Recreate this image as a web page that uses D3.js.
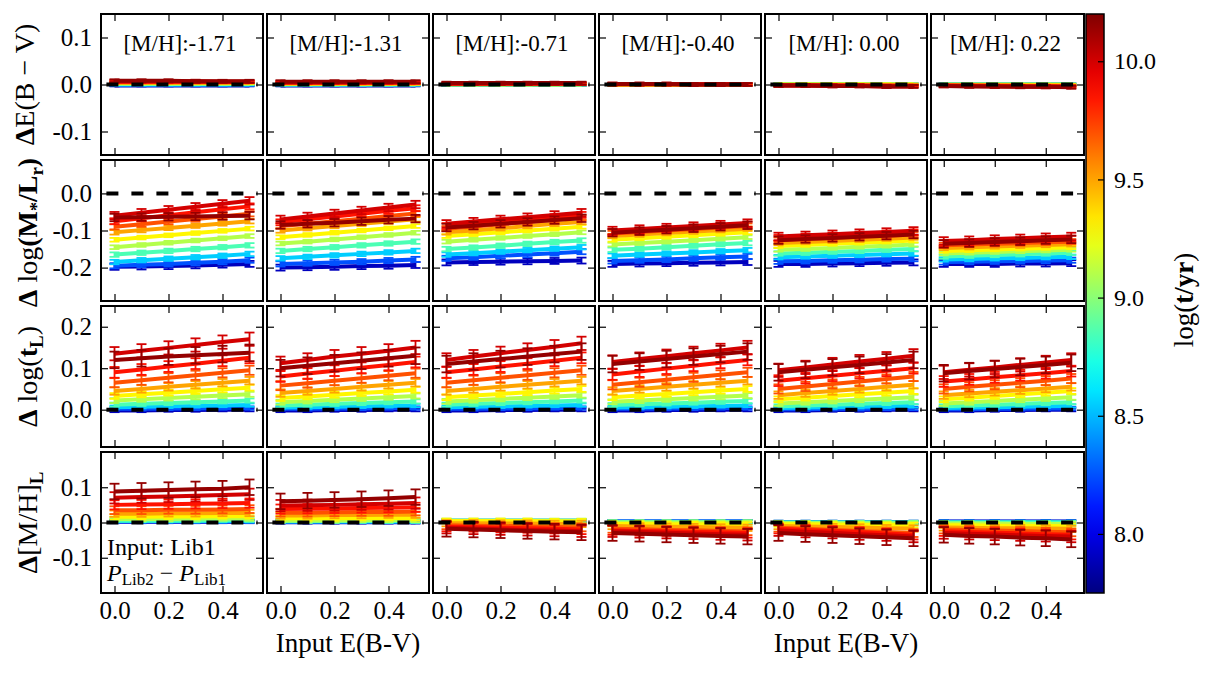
<!DOCTYPE html>
<html>
<head>
<meta charset="utf-8">
<script src="https://cdn.jsdelivr.net/npm/d3@7"></script>
<style>
body { margin: 0; background: #fff; }
svg text { font-family: 'Liberation Serif', 'DejaVu Serif', serif; }
</style>
</head>
<body>
<div id="chart"></div>
<script>
// input reddening values (x of every point)
var ebvIn = [0, 0.1, 0.2, 0.3, 0.4, 0.5];
var xTicks = [0, 0.2, 0.4];
// log(t/yr) of each plotted population, young -> old
var ages = [7.9, 8.25, 8.55, 8.85, 9.1, 9.3, 9.5, 9.7, 9.85, 10.0, 10.15];
var metals = ["[M/H]:-1.71", "[M/H]:-1.31", "[M/H]:-0.71", "[M/H]:-0.40", "[M/H]: 0.00", "[M/H]: 0.22"];
var cbTicks = [8.0, 8.5, 9.0, 9.5, 10.0];
var cbRange = [7.75, 10.2];
var zeroLine = [[-0.03, 0], [0.53, 0]];

// row 1: Delta E(B-V)
var ebv_m171 = [
  [-0.002,-0.002,-0.002,-0.002,-0.002,-0.002],
  [-0.001,-0.001,-0.001,-0.001,-0.001,-0.001],
  [0,0,0,0,0,0],
  [0.001,0.001,0.001,0.001,0.001,0.001],
  [0.002,0.002,0.002,0.002,0.002,0.002],
  [0.003,0.003,0.003,0.003,0.003,0.003],
  [0.004,0.004,0.004,0.004,0.004,0.004],
  [0.005,0.005,0.005,0.005,0.005,0.005],
  [0.006,0.006,0.006,0.006,0.006,0.006],
  [0.007,0.007,0.007,0.007,0.006,0.006],
  [0.008,0.008,0.008,0.007,0.007,0.007]];
var ebv_m131 = [
  [-0.002,-0.002,-0.002,-0.002,-0.002,-0.002],
  [-0.001,-0.001,-0.001,-0.001,-0.001,-0.001],
  [0,0,0,0,0,0],
  [0,0,0,0,0,0],
  [0.001,0.001,0.001,0.001,0.001,0.001],
  [0.002,0.002,0.002,0.002,0.002,0.002],
  [0.002,0.002,0.002,0.002,0.002,0.002],
  [0.003,0.003,0.003,0.003,0.003,0.003],
  [0.004,0.004,0.004,0.004,0.004,0.004],
  [0.005,0.005,0.005,0.005,0.005,0.005],
  [0.006,0.006,0.006,0.006,0.006,0.006]];
var ebv_m071 = [
  [-0.001,-0.001,-0.001,-0.001,-0.001,-0.001],
  [0,0,0,0,0,0],
  [0,0,0,0,0,0],
  [0,0,0,0,0,0],
  [0,0,0,0,0,0],
  [0.001,0.001,0.001,0.001,0.001,0.001],
  [0.001,0.001,0.001,0.001,0.001,0.001],
  [0.001,0.001,0.001,0.001,0.001,0.001],
  [0.002,0.002,0.002,0.002,0.002,0.002],
  [0.002,0.002,0.002,0.002,0.002,0.002],
  [0.003,0.003,0.003,0.003,0.003,0.003]];
var ebv_m040 = [
  [0,0,0,0,0,0],
  [0,0,0,0,0,0],
  [0,0,0,0,0,0],
  [0,0,0,0,0,0],
  [0,0,0,0,0,0],
  [0,0,0,0,0,0],
  [0,0,0,0,0,0],
  [0,0,0,0,0,0],
  [0.001,0.001,0.001,0.001,0.001,0.001],
  [0.001,0.001,0.001,0,0,0],
  [0.001,0.001,0.001,0,0,0]];
var ebv_p000 = [
  [0,0,0,0,0,0],
  [0,0,0,0,0,0],
  [0,0,0,0,0,0],
  [0,0,0,0,0,0],
  [0,0,0,0,0,0],
  [0,0,0,0,0,0],
  [-0.001,-0.001,-0.001,-0.001,-0.001,-0.001],
  [-0.001,-0.001,-0.001,-0.002,-0.002,-0.002],
  [-0.002,-0.002,-0.002,-0.002,-0.003,-0.003],
  [-0.002,-0.002,-0.003,-0.003,-0.004,-0.004],
  [-0.002,-0.002,-0.003,-0.003,-0.004,-0.004]];
var ebv_p022 = [
  [0,0,0,0,0,0],
  [0,0,0,0,0,0],
  [0,0,0,0,0,0],
  [0,0,0,0,0,0],
  [0,0,0,0,0,0],
  [-0.001,-0.001,-0.001,-0.001,-0.001,-0.001],
  [-0.001,-0.001,-0.002,-0.002,-0.002,-0.002],
  [-0.002,-0.002,-0.002,-0.003,-0.003,-0.003],
  [-0.002,-0.003,-0.003,-0.004,-0.004,-0.005],
  [-0.003,-0.003,-0.004,-0.004,-0.005,-0.005],
  [-0.003,-0.004,-0.004,-0.005,-0.005,-0.006]];

// row 2: Delta log(M*/Lr)
var ml_m171 = [
  [-0.198,-0.197,-0.196,-0.194,-0.192,-0.19],
  [-0.195,-0.192,-0.19,-0.187,-0.184,-0.18],
  [-0.185,-0.18,-0.176,-0.172,-0.168,-0.163],
  [-0.165,-0.16,-0.155,-0.15,-0.145,-0.14],
  [-0.145,-0.139,-0.133,-0.127,-0.121,-0.115],
  [-0.125,-0.119,-0.113,-0.107,-0.101,-0.095],
  [-0.105,-0.099,-0.093,-0.087,-0.081,-0.075],
  [-0.09,-0.083,-0.076,-0.069,-0.062,-0.055],
  [-0.075,-0.067,-0.059,-0.051,-0.043,-0.035],
  [-0.06,-0.052,-0.044,-0.036,-0.028,-0.02],
  [-0.065,-0.064,-0.063,-0.062,-0.061,-0.06]];
var ml_m131 = [
  [-0.2,-0.199,-0.198,-0.196,-0.195,-0.193],
  [-0.19,-0.188,-0.186,-0.184,-0.181,-0.178],
  [-0.175,-0.171,-0.167,-0.163,-0.159,-0.155],
  [-0.155,-0.15,-0.145,-0.14,-0.135,-0.13],
  [-0.135,-0.13,-0.124,-0.118,-0.112,-0.106],
  [-0.118,-0.112,-0.106,-0.1,-0.094,-0.088],
  [-0.1,-0.094,-0.088,-0.082,-0.076,-0.07],
  [-0.088,-0.082,-0.075,-0.068,-0.061,-0.054],
  [-0.078,-0.07,-0.062,-0.055,-0.047,-0.04],
  [-0.07,-0.062,-0.054,-0.046,-0.038,-0.03],
  [-0.085,-0.082,-0.079,-0.075,-0.071,-0.068]];
var ml_m071 = [
  [-0.186,-0.185,-0.184,-0.183,-0.182,-0.181],
  [-0.175,-0.172,-0.168,-0.165,-0.161,-0.157],
  [-0.165,-0.161,-0.157,-0.153,-0.149,-0.145],
  [-0.15,-0.146,-0.141,-0.136,-0.131,-0.127],
  [-0.13,-0.125,-0.12,-0.115,-0.11,-0.105],
  [-0.115,-0.11,-0.105,-0.1,-0.095,-0.09],
  [-0.105,-0.1,-0.094,-0.088,-0.082,-0.077],
  [-0.095,-0.089,-0.083,-0.077,-0.071,-0.065],
  [-0.088,-0.082,-0.076,-0.07,-0.064,-0.058],
  [-0.082,-0.076,-0.07,-0.064,-0.058,-0.052],
  [-0.092,-0.087,-0.082,-0.077,-0.072,-0.067]];
var ml_m040 = [
  [-0.19,-0.189,-0.188,-0.187,-0.186,-0.185],
  [-0.182,-0.18,-0.178,-0.175,-0.172,-0.17],
  [-0.168,-0.165,-0.162,-0.159,-0.156,-0.153],
  [-0.152,-0.149,-0.145,-0.141,-0.137,-0.134],
  [-0.138,-0.134,-0.13,-0.126,-0.122,-0.118],
  [-0.125,-0.121,-0.117,-0.113,-0.109,-0.105],
  [-0.115,-0.111,-0.107,-0.103,-0.099,-0.095],
  [-0.108,-0.104,-0.1,-0.096,-0.092,-0.088],
  [-0.104,-0.1,-0.096,-0.092,-0.088,-0.084],
  [-0.1,-0.096,-0.092,-0.088,-0.084,-0.08],
  [-0.106,-0.102,-0.098,-0.094,-0.09,-0.086]];
var ml_p000 = [
  [-0.19,-0.19,-0.189,-0.188,-0.187,-0.186],
  [-0.183,-0.182,-0.18,-0.179,-0.177,-0.176],
  [-0.172,-0.17,-0.168,-0.166,-0.164,-0.162],
  [-0.162,-0.16,-0.157,-0.155,-0.152,-0.15],
  [-0.152,-0.15,-0.147,-0.144,-0.141,-0.138],
  [-0.142,-0.139,-0.136,-0.133,-0.13,-0.127],
  [-0.134,-0.131,-0.128,-0.125,-0.122,-0.119],
  [-0.126,-0.123,-0.12,-0.117,-0.114,-0.111],
  [-0.12,-0.117,-0.114,-0.111,-0.108,-0.105],
  [-0.116,-0.113,-0.11,-0.107,-0.104,-0.101],
  [-0.126,-0.123,-0.12,-0.117,-0.114,-0.111]];
var ml_p022 = [
  [-0.19,-0.19,-0.19,-0.189,-0.189,-0.188],
  [-0.185,-0.184,-0.183,-0.182,-0.181,-0.18],
  [-0.178,-0.177,-0.175,-0.174,-0.172,-0.171],
  [-0.17,-0.168,-0.166,-0.164,-0.162,-0.16],
  [-0.162,-0.16,-0.158,-0.156,-0.154,-0.152],
  [-0.155,-0.153,-0.151,-0.149,-0.147,-0.145],
  [-0.147,-0.145,-0.143,-0.141,-0.139,-0.137],
  [-0.14,-0.138,-0.136,-0.134,-0.132,-0.13],
  [-0.134,-0.132,-0.129,-0.127,-0.124,-0.122],
  [-0.128,-0.126,-0.123,-0.121,-0.118,-0.116],
  [-0.136,-0.134,-0.131,-0.129,-0.126,-0.124]];

// row 3: Delta log(tL)
var tl_m171 = [
  [-0.002,-0.002,-0.001,-0.001,0,0],
  [0.002,0.002,0.003,0.003,0.004,0.004],
  [0.006,0.007,0.008,0.009,0.01,0.011],
  [0.012,0.014,0.016,0.018,0.02,0.022],
  [0.022,0.025,0.028,0.031,0.034,0.037],
  [0.033,0.037,0.041,0.045,0.049,0.053],
  [0.045,0.05,0.055,0.06,0.065,0.07],
  [0.065,0.071,0.077,0.083,0.089,0.095],
  [0.09,0.097,0.104,0.111,0.118,0.125],
  [0.135,0.142,0.149,0.156,0.163,0.17],
  [0.12,0.124,0.128,0.131,0.134,0.137]];
var tl_m131 = [
  [-0.002,-0.002,-0.001,-0.001,0,0],
  [0.002,0.002,0.003,0.003,0.004,0.004],
  [0.005,0.006,0.007,0.008,0.009,0.01],
  [0.01,0.012,0.014,0.016,0.018,0.02],
  [0.018,0.021,0.024,0.027,0.03,0.033],
  [0.028,0.032,0.036,0.04,0.044,0.048],
  [0.04,0.045,0.05,0.055,0.06,0.065],
  [0.058,0.064,0.07,0.076,0.082,0.088],
  [0.08,0.087,0.094,0.101,0.108,0.115],
  [0.112,0.12,0.128,0.135,0.142,0.15],
  [0.1,0.106,0.112,0.118,0.124,0.13]];
var tl_m071 = [
  [-0.002,-0.002,-0.001,-0.001,0,0],
  [0.002,0.002,0.003,0.003,0.004,0.004],
  [0.006,0.007,0.008,0.009,0.01,0.011],
  [0.012,0.014,0.016,0.018,0.02,0.022],
  [0.02,0.023,0.026,0.029,0.032,0.035],
  [0.03,0.034,0.038,0.042,0.046,0.05],
  [0.045,0.05,0.055,0.06,0.065,0.07],
  [0.065,0.071,0.077,0.083,0.089,0.095],
  [0.09,0.097,0.104,0.111,0.118,0.125],
  [0.12,0.128,0.136,0.144,0.152,0.16],
  [0.11,0.116,0.122,0.128,0.134,0.14]];
var tl_m040 = [
  [-0.002,-0.002,-0.001,-0.001,0,0],
  [0.002,0.002,0.003,0.003,0.004,0.004],
  [0.005,0.006,0.007,0.008,0.009,0.01],
  [0.011,0.013,0.015,0.017,0.019,0.021],
  [0.019,0.022,0.025,0.028,0.031,0.034],
  [0.03,0.034,0.038,0.042,0.046,0.05],
  [0.045,0.05,0.055,0.06,0.065,0.07],
  [0.06,0.066,0.072,0.078,0.084,0.09],
  [0.085,0.092,0.099,0.106,0.113,0.12],
  [0.115,0.122,0.129,0.136,0.143,0.15],
  [0.11,0.116,0.122,0.128,0.134,0.14]];
var tl_p000 = [
  [-0.002,-0.002,-0.001,-0.001,0,0],
  [0.001,0.001,0.002,0.002,0.003,0.003],
  [0.004,0.005,0.006,0.007,0.008,0.009],
  [0.008,0.01,0.012,0.014,0.016,0.018],
  [0.015,0.018,0.021,0.024,0.027,0.03],
  [0.025,0.029,0.033,0.037,0.041,0.045],
  [0.035,0.04,0.045,0.05,0.055,0.06],
  [0.05,0.056,0.062,0.068,0.074,0.08],
  [0.07,0.076,0.082,0.088,0.094,0.1],
  [0.095,0.102,0.109,0.116,0.123,0.13],
  [0.09,0.096,0.102,0.108,0.114,0.12]];
var tl_p022 = [
  [-0.002,-0.002,-0.001,-0.001,0,0],
  [0.001,0.001,0.002,0.002,0.003,0.003],
  [0.004,0.005,0.006,0.007,0.008,0.009],
  [0.008,0.01,0.012,0.014,0.016,0.018],
  [0.015,0.018,0.021,0.024,0.027,0.03],
  [0.025,0.029,0.033,0.037,0.041,0.045],
  [0.035,0.039,0.043,0.047,0.051,0.055],
  [0.05,0.055,0.06,0.065,0.07,0.075],
  [0.068,0.073,0.078,0.083,0.088,0.093],
  [0.09,0.096,0.102,0.108,0.114,0.12],
  [0.088,0.093,0.098,0.103,0.108,0.113]];

// row 4: Delta [M/H]L
var mh_m171 = [
  [0.002,0.002,0.002,0.002,0.002,0.002],
  [0.003,0.003,0.003,0.003,0.003,0.003],
  [0.004,0.004,0.004,0.004,0.004,0.004],
  [0.006,0.006,0.006,0.006,0.007,0.007],
  [0.01,0.01,0.01,0.011,0.011,0.011],
  [0.016,0.016,0.017,0.017,0.018,0.018],
  [0.025,0.025,0.026,0.026,0.027,0.027],
  [0.035,0.035,0.036,0.036,0.037,0.038],
  [0.05,0.051,0.052,0.053,0.054,0.055],
  [0.07,0.072,0.074,0.076,0.078,0.08],
  [0.088,0.09,0.092,0.094,0.096,0.1]];
var mh_m131 = [
  [0.001,0.001,0.001,0.001,0.001,0.001],
  [0.002,0.002,0.002,0.002,0.002,0.002],
  [0.003,0.003,0.003,0.003,0.003,0.003],
  [0.004,0.004,0.004,0.004,0.004,0.004],
  [0.006,0.006,0.006,0.007,0.007,0.007],
  [0.012,0.012,0.012,0.013,0.013,0.013],
  [0.02,0.02,0.021,0.021,0.022,0.022],
  [0.028,0.028,0.029,0.03,0.03,0.031],
  [0.038,0.039,0.04,0.041,0.042,0.043],
  [0.048,0.049,0.05,0.052,0.053,0.055],
  [0.06,0.062,0.064,0.066,0.069,0.072]];
var mh_m071 = [
  [0.004,0.004,0.004,0.004,0.004,0.004],
  [0.005,0.005,0.005,0.005,0.005,0.005],
  [0.005,0.005,0.005,0.005,0.005,0.005],
  [0.005,0.005,0.005,0.005,0.005,0.005],
  [0.005,0.005,0.005,0.005,0.005,0.005],
  [0.004,0.004,0.004,0.004,0.003,0.003],
  [-0.002,-0.002,-0.003,-0.003,-0.004,-0.004],
  [-0.008,-0.009,-0.01,-0.011,-0.013,-0.014],
  [-0.012,-0.013,-0.015,-0.016,-0.018,-0.02],
  [-0.015,-0.017,-0.019,-0.021,-0.023,-0.025],
  [-0.018,-0.02,-0.022,-0.024,-0.026,-0.028]];
var mh_m040 = [
  [0.003,0.003,0.003,0.003,0.003,0.003],
  [0.003,0.003,0.003,0.003,0.003,0.003],
  [0.002,0.002,0.002,0.002,0.002,0.002],
  [0.001,0.001,0.001,0.001,0.001,0.001],
  [0,0,0,0,0,0],
  [-0.004,-0.004,-0.005,-0.005,-0.006,-0.006],
  [-0.01,-0.011,-0.012,-0.013,-0.014,-0.015],
  [-0.018,-0.019,-0.021,-0.022,-0.024,-0.025],
  [-0.022,-0.024,-0.025,-0.027,-0.028,-0.03],
  [-0.025,-0.027,-0.029,-0.031,-0.033,-0.035],
  [-0.03,-0.032,-0.034,-0.036,-0.038,-0.04]];
var mh_p000 = [
  [0.001,0.001,0.001,0.001,0.001,0.001],
  [0.001,0.001,0.001,0.001,0.001,0.001],
  [0,0,0,0,0,0],
  [0,0,0,0,0,0],
  [-0.002,-0.002,-0.002,-0.003,-0.003,-0.003],
  [-0.005,-0.005,-0.006,-0.007,-0.007,-0.008],
  [-0.01,-0.011,-0.013,-0.014,-0.016,-0.017],
  [-0.015,-0.018,-0.021,-0.024,-0.027,-0.03],
  [-0.018,-0.021,-0.024,-0.027,-0.031,-0.035],
  [-0.022,-0.026,-0.029,-0.033,-0.036,-0.04],
  [-0.03,-0.033,-0.036,-0.039,-0.042,-0.045]];
var mh_p022 = [
  [0.003,0.003,0.003,0.003,0.003,0.003],
  [0.002,0.002,0.002,0.002,0.002,0.002],
  [0.001,0.001,0.001,0.001,0.001,0.001],
  [0,0,0,0,0,0],
  [-0.003,-0.003,-0.003,-0.004,-0.004,-0.004],
  [-0.008,-0.008,-0.009,-0.009,-0.01,-0.01],
  [-0.014,-0.015,-0.016,-0.016,-0.017,-0.018],
  [-0.02,-0.021,-0.023,-0.024,-0.026,-0.028],
  [-0.025,-0.027,-0.029,-0.031,-0.033,-0.035],
  [-0.03,-0.032,-0.034,-0.036,-0.038,-0.04],
  [-0.035,-0.038,-0.04,-0.043,-0.045,-0.048]];

// error bar half-sizes per age, one list per quantity
var errEbv = [0.002,0.002,0.002,0.002,0.002,0.002,0.002,0.002,0.002,0.003,0.003];
var errMl = [0.008,0.007,0.006,0.006,0.005,0.005,0.006,0.007,0.008,0.01,0.01];
var errTl = [0.004,0.004,0.004,0.005,0.006,0.007,0.009,0.011,0.013,0.016,0.02];
var errMh = [0.004,0.004,0.004,0.005,0.006,0.007,0.009,0.011,0.013,0.016,0.022];

var rows = [
  { panels: [ebv_m171, ebv_m131, ebv_m071, ebv_m040, ebv_p000, ebv_p022], err: errEbv,
    domain: [-0.15, 0.15], ticks: [-0.1, 0, 0.1] },
  { panels: [ml_m171, ml_m131, ml_m071, ml_m040, ml_p000, ml_p022], err: errMl,
    domain: [-0.29, 0.09], ticks: [-0.2, -0.1, 0] },
  { panels: [tl_m171, tl_m131, tl_m071, tl_m040, tl_p000, tl_p022], err: errTl,
    domain: [-0.09, 0.25], ticks: [0, 0.1, 0.2] },
  { panels: [mh_m171, mh_m131, mh_m071, mh_m040, mh_p000, mh_p022], err: errMh,
    domain: [-0.2, 0.2], ticks: [-0.1, 0, 0.1] }
];

// layout
var W = 1207, H = 673;
var colLeft = [101, 267, 433, 599, 765, 931];
var colW = [162, 162, 162, 162, 162, 153];
var rowTop = [14, 160, 306, 452];
var rowH = 141;
var cb = { x: 1086, y: 14, w: 18, h: 579 };
var serif = "'Liberation Serif', 'DejaVu Serif', serif";

function clamp(v) { return Math.max(0, Math.min(1, v)) }
// matplotlib "jet"
function jet(t) {
    var r = clamp(1.5 - Math.abs(4 * t - 3)),
        g = clamp(1.5 - Math.abs(4 * t - 2)),
        b = clamp(1.5 - Math.abs(4 * t - 1))
    return d3.rgb(r * 255, g * 255, b * 255).toString()
}
var norm = d3.scaleLinear().domain(cbRange).range([0, 1]).clamp(true)
function ageColor(a) { return jet(norm(a)) }

var svg = d3.select("#chart")
    .append("svg")
    .attr("width", W)
    .attr("height", H)

var fmt = function (d) { return d.toFixed(1) }

rows.forEach(function (row, r) {
    row.panels.forEach(function (vals, c) {
        var x = d3.scaleLinear().domain([-0.05, 0.55]).range([colLeft[c], colLeft[c] + colW[c]])
        var y = d3.scaleLinear().domain(row.domain).range([rowTop[r] + rowH, rowTop[r]])
        var g = svg.append("g")

        var line = d3.line()
            .x(function (d, j) { return x(ebvIn[j]) })
            .y(function (d) { return y(d) })

        vals.forEach(function (v, i) {
            var col = ageColor(ages[i])
            var e = row.err[i]
            g.append("path")
                .datum(v)
                .attr("d", line)
                .attr("fill", "none")
                .attr("stroke", col)
                .attr("stroke-width", 4)
            // error bars
            var eb = g.append("g").attr("stroke", col).attr("stroke-width", 1.8)
            v.forEach(function (d, j) {
                var xp = x(ebvIn[j])
                eb.append("line").attr("x1", xp).attr("x2", xp).attr("y1", y(d - e)).attr("y2", y(d + e))
                eb.append("line").attr("x1", xp - 5).attr("x2", xp + 5).attr("y1", y(d - e)).attr("y2", y(d - e))
                eb.append("line").attr("x1", xp - 5).attr("x2", xp + 5).attr("y1", y(d + e)).attr("y2", y(d + e))
            })
        })

        // zero reference
        g.append("path")
            .datum(zeroLine)
            .attr("d", d3.line().x(function (d) { return x(d[0]) }).y(function (d) { return y(d[1]) }))
            .attr("stroke", "#000")
            .attr("stroke-width", 4)
            .attr("stroke-dasharray", "12,13")
            .attr("fill", "none")

        // axes, ticks inside on all sides
        var left = d3.axisLeft(y).tickValues(row.ticks).tickSize(-7).tickPadding(9)
            .tickFormat(c === 0 ? fmt : "")
        var right = d3.axisRight(y).tickValues(row.ticks).tickSize(-7).tickFormat("")
        var bottom = d3.axisBottom(x).tickValues(xTicks).tickSize(-7).tickPadding(8)
            .tickFormat(r === 3 ? fmt : "")
        var top = d3.axisTop(x).tickValues(xTicks).tickSize(-7).tickFormat("")

        var axes = [
            g.append("g").attr("transform", "translate(" + colLeft[c] + ",0)").call(left),
            g.append("g").attr("transform", "translate(" + (colLeft[c] + colW[c]) + ",0)").call(right),
            g.append("g").attr("transform", "translate(0," + (rowTop[r] + rowH) + ")").call(bottom),
            g.append("g").attr("transform", "translate(0," + rowTop[r] + ")").call(top)
        ]
        axes.forEach(function (a) {
            a.attr("font-family", null)
            a.select(".domain").remove()
            a.selectAll("line").attr("stroke-width", 1.2)
            a.selectAll("text").attr("font-size", 25).attr("fill", "#000").style("font-family", serif)
        })

        g.append("rect")
            .attr("x", colLeft[c]).attr("y", rowTop[r])
            .attr("width", colW[c]).attr("height", rowH)
            .attr("fill", "none").attr("stroke", "#000").attr("stroke-width", 2)

        if (r === 0) {
            g.append("text")
                .attr("x", colLeft[c] + colW[c] / 2 - 2)
                .attr("y", rowTop[r] + 37)
                .attr("text-anchor", "middle")
                .attr("font-size", 23)
                .text(metals[c])
        }
    })
})

// y labels
function ylabel(yc, xb, parts) {
    var t = svg.append("text")
        .attr("transform", "translate(" + xb + "," + yc + ") rotate(-90)")
        .attr("text-anchor", "middle")
        .attr("font-size", 28)
    parts.forEach(function (p) {
        var s = t.append("tspan").text(p.t)
        if (p.b) s.attr("font-weight", "bold")
        if (p.dy) s.attr("dy", p.dy)
        if (p.fs) s.attr("font-size", p.fs)
    })
}
ylabel(rowTop[0] + rowH / 2, 34, [{ t: "Δ", b: 1 }, { t: "E(B − V)" }])
ylabel(rowTop[1] + rowH / 2 + 2, 37, [{ t: "Δ", b: 1 }, { t: " log" }, { t: "(M", b: 1 },
    { t: "*", b: 1, dy: 6, fs: 18 }, { t: "/L", b: 1, dy: -6 }, { t: "r", b: 1, dy: 6, fs: 19 },
    { t: ")", b: 1, dy: -6 }])
ylabel(rowTop[2] + rowH / 2, 37, [{ t: "Δ", b: 1 }, { t: " log(" }, { t: "t", b: 1 },
    { t: "L", b: 1, dy: 6, fs: 19 }, { t: ")", dy: -6 }])
ylabel(rowTop[3] + rowH / 2, 37, [{ t: "Δ", b: 1 }, { t: "[M/H]" },
    { t: "L", b: 1, dy: 6, fs: 19 }])

// x labels
var xl = [1, 4]
xl.forEach(function (c) {
    svg.append("text")
        .attr("x", colLeft[c] + colW[c] / 2)
        .attr("y", 652)
        .attr("text-anchor", "middle")
        .attr("font-size", 27)
        .text("Input E(B-V)")
})

// annotation in first bottom panel
svg.append("text")
    .attr("x", colLeft[0] + 6).attr("y", 555)
    .attr("font-size", 24)
    .text("Input: Lib1")
var ann = svg.append("text")
    .attr("x", colLeft[0] + 6).attr("y", 581)
    .attr("font-size", 24)
ann.append("tspan").attr("font-style", "italic").text("P")
ann.append("tspan").attr("font-size", 17).attr("dy", 4).text("Lib2")
ann.append("tspan").attr("dy", -4).text(" − ")
ann.append("tspan").attr("font-style", "italic").text("P")
ann.append("tspan").attr("font-size", 17).attr("dy", 4).text("Lib1")

// colorbar
var defs = svg.append("defs")
var grad = defs.append("linearGradient").attr("id", "jetgrad")
    .attr("x1", 0).attr("y1", 1).attr("x2", 0).attr("y2", 0)
d3.range(0, 1.0001, 0.05).forEach(function (t) {
    grad.append("stop").attr("offset", t).attr("stop-color", jet(t))
})
svg.append("rect")
    .attr("x", cb.x).attr("y", cb.y).attr("width", cb.w).attr("height", cb.h)
    .attr("fill", "url(#jetgrad)").attr("stroke", "#000").attr("stroke-width", 1.5)
var cy = d3.scaleLinear().domain(cbRange).range([cb.y + cb.h, cb.y])
var cbAxis = svg.append("g")
    .attr("transform", "translate(" + (cb.x + cb.w) + ",0)")
    .call(d3.axisRight(cy).tickValues(cbTicks).tickSize(-6).tickPadding(10).tickFormat(fmt))
cbAxis.attr("font-family", null)
cbAxis.select(".domain").remove()
cbAxis.selectAll("line").attr("stroke-width", 1.2)
cbAxis.selectAll("text").attr("font-size", 24).attr("fill", "#000").style("font-family", serif)

var cbl = svg.append("text")
    .attr("transform", "translate(1193,300) rotate(-90)")
    .attr("text-anchor", "middle")
    .attr("font-size", 27)
cbl.append("tspan").text("log(")
cbl.append("tspan").attr("font-weight", "bold").text("t/yr")
cbl.append("tspan").text(")")
</script>
</body>
</html>
